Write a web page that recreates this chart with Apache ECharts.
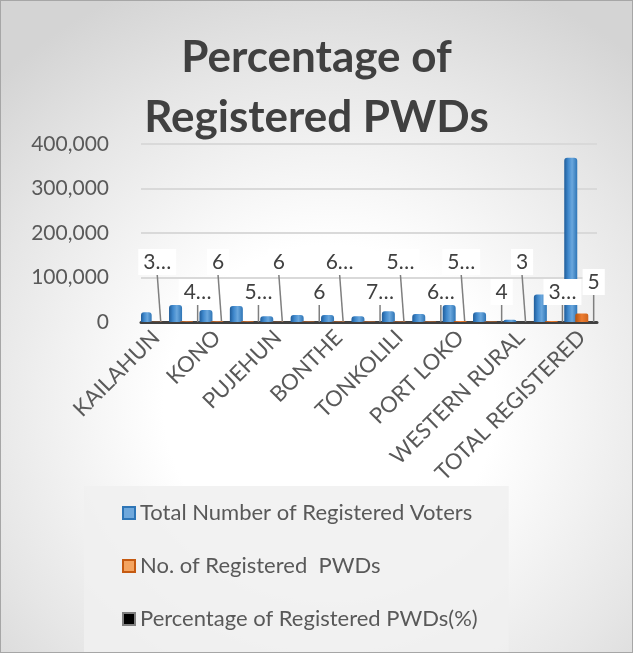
<!DOCTYPE html>
<html>
<head>
<meta charset="utf-8">
<script src="https://cdn.jsdelivr.net/npm/echarts@6/dist/echarts.min.js"></script>
<style>
  html, body { margin: 0; padding: 0; }
  #chart {
    width: 631px;
    height: 651px;
    border: 1px solid #a6a6a6;
    background: radial-gradient(ellipse 75% 70% at 52% 62%, #ffffff 35%, #e6e6e6 75%, #d4d4d4 100%);
  }
</style>
</head>
<body>
<div id="chart"></div>
<script>
// districts (every other label is hidden in the original)
var districts = ['KAILAHUN', 'KENEMA', 'KONO', 'BO', 'PUJEHUN', 'MOYAMBA', 'BONTHE', 'BOMBALI',
  'TONKOLILI', 'KOINADUGU', 'PORT LOKO', 'KAMBIA', 'WESTERN RURAL', 'WESTERN URBAN', 'TOTAL REGISTERED']
var voters = [22000, 38000, 27000, 36000, 13000, 16000, 16000, 13000, 24000, 18000, 38000, 22000, 5000, 62000, 369000]
var pwds = [770, 1630, 1620, 1940, 780, 960, 1040, 950, 1340, 1150, 2090, 880, 150, 2100, 19000]
var percent = [3.5, 4.3, 6, 5.4, 6, 6, 6.5, 7.3, 5.6, 6.4, 5.5, 4, 3, 3.4, 5]
var yTicks = [0, 100000, 200000, 300000, 400000]

var font = 'Lato'
var myChart = echarts.init(document.getElementById('chart'))

var option = {
  textStyle: { fontFamily: font },
  title: {
    text: 'Percentage of\nRegistered PWDs',
    left: 'center',
    top: 22,
    textStyle: {
      fontFamily: font,
      fontSize: 44,
      fontWeight: 'bold',
      color: '#404040',
      lineHeight: 60,
    },
  },
  legend: {
    orient: 'vertical',
    left: 83,
    top: 485,
    padding: [16, 31, 22, 38],
    itemGap: 31,
    itemWidth: 12,
    itemHeight: 12,
    backgroundColor: 'rgba(240,240,240,0.85)',
    textStyle: { fontFamily: font, fontSize: 22, color: '#595959' },
    data: [
      { name: 'Total Number of Registered Voters', icon: 'rect',
        itemStyle: { color: '#6fa8dc', borderColor: '#2e75b6', borderWidth: 2 } },
      { name: 'No. of Registered  PWDs', icon: 'rect',
        itemStyle: { color: '#f4a460', borderColor: '#c55a11', borderWidth: 2 } },
      { name: 'Percentage of Registered PWDs(%)', icon: 'rect',
        itemStyle: { color: '#000000', borderColor: '#7f7f7f', borderWidth: 2 } },
    ],
  },
  grid: {
    left: 140,
    right: 35,
    top: 143,
    bottom: 330,
  },
  xAxis: {
    type: 'category',
    data: districts,
    axisLine: { show: true, lineStyle: { color: '#404040', width: 3 } },
    axisTick: { show: false },
    axisLabel: {
      interval: 1,
      rotate: 45,
      margin: 12,
      fontFamily: font,
      fontSize: 22,
      color: '#595959',
    },
  },
  yAxis: {
    type: 'value',
    min: yTicks[0],
    max: yTicks[yTicks.length - 1],
    interval: 100000,
    axisLine: { show: false },
    axisTick: { show: false },
    splitLine: { lineStyle: { color: '#d9d9d9', width: 2 } },
    axisLabel: {
      margin: 32,
      fontFamily: font,
      fontSize: 21,
      color: '#595959',
      formatter: function (v) {
        return v.toLocaleString('en-US')
      },
    },
  },
  series: [
    {
      name: 'Total Number of Registered Voters',
      type: 'bar',
      barWidth: 13,
      barGap: '-15%',
      itemStyle: {
        borderRadius: [3, 3, 0, 0],
        color: new echarts.graphic.LinearGradient(0, 0, 1, 0, [
          { offset: 0, color: '#1f5c99' },
          { offset: 0.3, color: '#3f88cc' },
          { offset: 0.6, color: '#6aa7dd' },
          { offset: 1, color: '#2e75b6' },
        ]),
      },
      data: voters,
    },
    {
      name: 'No. of Registered  PWDs',
      type: 'bar',
      barWidth: 13,
      barGap: '-15%',
      itemStyle: {
        borderRadius: [2, 2, 0, 0],
        color: new echarts.graphic.LinearGradient(0, 0, 1, 0, [
          { offset: 0, color: '#b4520f' },
          { offset: 0.5, color: '#ed7d31' },
          { offset: 1, color: '#d0651e' },
        ]),
      },
      data: pwds,
    },
    {
      name: 'Percentage of Registered PWDs(%)',
      type: 'bar',
      barWidth: 13,
      barGap: '-15%',
      itemStyle: { color: '#000000' },
      label: {
        show: true,
        position: 'top',
        fontFamily: font,
        fontSize: 21,
        color: '#404040',
        backgroundColor: '#ffffff',
        padding: [3, 5, 2, 5],
        formatter: function (p) {
          var v = p.value
          // Excel cut the decimals off with an ellipsis
          return Number.isInteger(v) ? String(v) : Math.floor(v) + '…'
        },
      },
      labelLine: {
        show: true,
        lineStyle: { color: '#7f7f7f', width: 1.5 },
      },
      labelLayout: function (params) {
        var i = params.dataIndex
        var last = i === percent.length - 1
        var high = i % 2 === 0
        return {
          dx: last ? 2 : high ? -10 : 0,
          dy: last ? -22 : high ? -42 : -12,
        }
      },
      data: percent,
    },
  ],
}

myChart.setOption(option)
</script>
</body>
</html>
